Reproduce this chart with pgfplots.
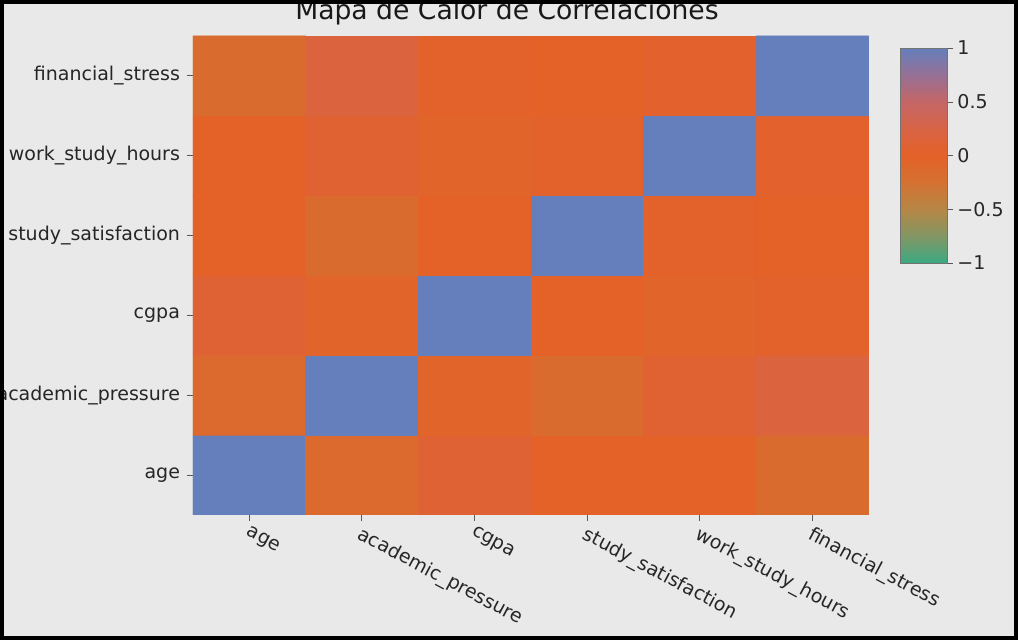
\documentclass[border=0pt]{standalone}
\usepackage{fontspec}
\setmainfont{DejaVu Sans}
\usepackage{pgfplots}
\pgfplotsset{compat=1.18}
\usepackage{pgfplotstable}
\definecolor{bgcol}{RGB}{233,233,233}
\pgfplotsset{colormap={corr}{rgb255=(60,170,130) rgb255=(130,150,100) rgb255=(182,135,70) rgb255=(212,113,50) rgb255=(228,97,40) rgb255=(216,100,70) rgb255=(196,102,102) rgb255=(150,112,150) rgb255=(100,127,187)}}

\pgfplotstableread{
x y c
0 0 1
1 0 -0.12
2 0 0.10
3 0 0.00
4 0 0.00
5 0 -0.15
0 1 -0.12
1 1 1
2 1 -0.05
3 1 -0.15
4 1 0.08
5 1 0.18
0 2 0.10
1 2 -0.05
2 2 1
3 2 0.00
4 2 -0.05
5 2 0.02
0 3 0.00
1 3 -0.15
2 3 0.00
3 3 1
4 3 0.02
5 3 0.00
0 4 0.00
1 4 0.08
2 4 -0.05
3 4 0.02
4 4 1
5 4 0.03
0 5 -0.15
1 5 0.18
2 5 0.02
3 5 0.00
4 5 0.03
5 5 1
}\corrdata

\begin{document}
\begin{tikzpicture}
\useasboundingbox (0pt,0pt) rectangle (509pt,320pt);
\fill[bgcol] (0pt,0pt) rectangle (509pt,320pt);
\coordinate (A) at (96.5pt,302pt);
\coordinate (C) at (441.5pt,296pt);
\begin{axis}[
  at={(A)}, anchor=north west,
  scale only axis, width=338pt, height=239.5pt,
  xmin=-0.5, xmax=5.5, ymin=-0.5, ymax=5.5,
  colormap name=corr,
  point meta min=-1, point meta max=1,
  axis line style={draw=none},
  tick align=outside,
  major tick length=3pt,
  tick style={draw=black!65, line width=0.5pt},
  xtick pos=bottom, ytick pos=left,
  xtick={0,1,2,3,4,5}, ytick={0,1,2,3,4,5},
  xticklabels={age,academic\_pressure,cgpa,study\_satisfaction,work\_study\_hours,financial\_stress},
  yticklabels={age,academic\_pressure,cgpa,study\_satisfaction,work\_study\_hours,financial\_stress},
  xticklabel style={font=\fontsize{9.5}{10}\selectfont, text=black!85, rotate=-28, anchor=north west, inner sep=1.5pt},
  yticklabel style={font=\fontsize{9.5}{10}\selectfont, text=black!85},
  colorbar,
  colorbar/width=23.5pt,
  colorbar style={
    at={(C)}, anchor=north west,
    height=107.5pt,
    ytick={-1,-0.5,0,0.5,1},
    yticklabels={−1,−0.5,0,0.5,1},
    ytick pos=right,
    yticklabel style={font=\fontsize{9.5}{10}\selectfont, text=black!85, inner sep=2pt},
    tick align=outside,
    major tick length=3pt,
    tick style={draw=black!65},
    axis line style={draw=black!55},
  },
]
\addplot[matrix plot*, mesh/cols=6, point meta=explicit] table[x=x, y=y, meta=c] {\corrdata};
\end{axis}
\node[anchor=base, text=black!90] at (253.5pt,310pt) {\fontsize{13.3}{15}\selectfont Mapa de Calor de Correlaciones};
\draw[line width=2pt] (1pt,1pt) rectangle (508pt,319pt);
\end{tikzpicture}
\end{document}
